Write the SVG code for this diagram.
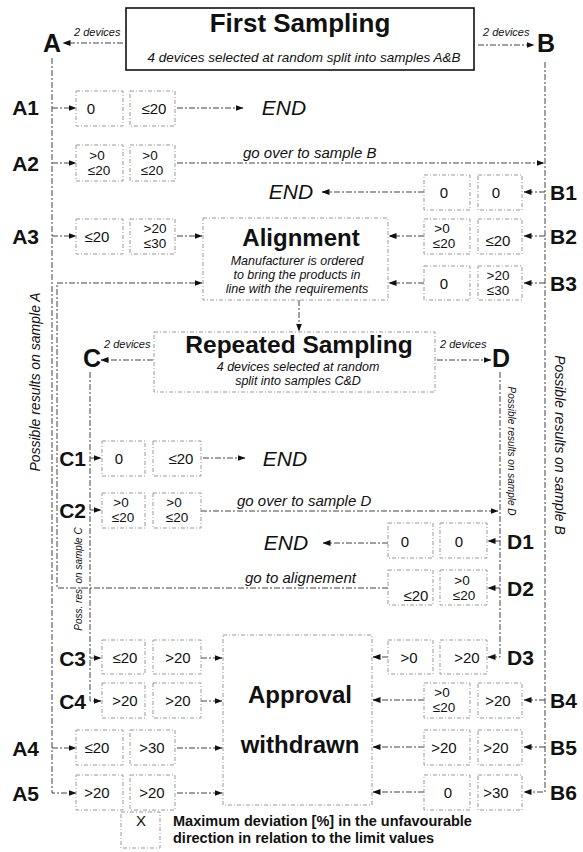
<svg xmlns="http://www.w3.org/2000/svg" width="583" height="852" viewBox="0 0 583 852">
<defs>
<marker id="ah" markerUnits="userSpaceOnUse" markerWidth="8" markerHeight="6" refX="7.5" refY="3" orient="auto">
<path d="M0,0 L8,3 L0,6 z" fill="#111"/>
</marker>
<style>
text{font-family:"Liberation Sans",Arial,Helvetica,sans-serif;fill:#111}
.b{stroke:#999;stroke-width:1;fill:none;stroke-dasharray:4,2,1,2}
.ca{stroke:#444;stroke-width:1;fill:none;stroke-dasharray:6,2,2,2;marker-end:url(#ah)}
.v{font-size:15px;text-anchor:middle}
.v2{font-size:13.5px;text-anchor:middle}
.lbl{font-size:21px;font-weight:bold}
.big{font-size:25px;font-weight:bold;text-anchor:middle}
.end{font-size:21px;font-style:italic;text-anchor:middle}
.it{font-style:italic}
.sm{font-size:11px;font-style:italic}
.h{font-weight:bold;text-anchor:middle}
</style>
</defs>
<rect width="583" height="852" fill="#fff"/>

<g id="connectors">
<line class="ca" x1="123" y1="43" x2="63" y2="43"/>
<line class="ca" x1="478" y1="45" x2="534" y2="45"/>
<polyline class="ca" points="52,58 52,793 76,793"/>
<polyline class="ca" points="545,62 545,792 524,792"/>
<line class="ca" x1="52" y1="108" x2="76" y2="108"/>
<line class="ca" x1="177" y1="108" x2="243" y2="108"/>
<line class="ca" x1="52" y1="163" x2="76" y2="163"/>
<line class="ca" x1="177" y1="163" x2="544" y2="163"/>
<line class="ca" x1="545" y1="192" x2="524" y2="192"/>
<line class="ca" x1="424" y1="192" x2="322" y2="192"/>
<line class="ca" x1="52" y1="236" x2="76" y2="236"/>
<line class="ca" x1="177" y1="236" x2="202" y2="236"/>
<line class="ca" x1="545" y1="236" x2="524" y2="236"/>
<line class="ca" x1="424" y1="236" x2="389" y2="236"/>
<line class="ca" x1="545" y1="283" x2="524" y2="283"/>
<line class="ca" x1="424" y1="283" x2="389" y2="283"/>
<polyline class="ca" points="388,588 57,588 57,283 202,283"/>
<line class="ca" x1="299" y1="300" x2="299" y2="331"/>
<line class="ca" x1="153" y1="360" x2="101" y2="360"/>
<line class="ca" x1="437" y1="360" x2="491" y2="360"/>
<polyline class="ca" points="90,372 90,701 101,701"/>
<line class="ca" x1="90" y1="458" x2="101" y2="458"/>
<line class="ca" x1="203" y1="458" x2="245" y2="458"/>
<line class="ca" x1="90" y1="510" x2="101" y2="510"/>
<line class="ca" x1="201" y1="511" x2="498" y2="511"/>
<polyline class="ca" points="500,372 500,657 488,657"/>
<line class="ca" x1="500" y1="541" x2="488" y2="541"/>
<line class="ca" x1="388" y1="543" x2="323" y2="543"/>
<line class="ca" x1="500" y1="588" x2="488" y2="588"/>
<line class="ca" x1="90" y1="658" x2="101" y2="658"/>
<line class="ca" x1="201" y1="658" x2="222" y2="658"/>
<line class="ca" x1="201" y1="701" x2="222" y2="701"/>
<line class="ca" x1="388" y1="657" x2="373" y2="657"/>
<line class="ca" x1="545" y1="700" x2="524" y2="700"/>
<line class="ca" x1="424" y1="700" x2="373" y2="700"/>
<line class="ca" x1="52" y1="748" x2="76" y2="748"/>
<line class="ca" x1="177" y1="748" x2="222" y2="748"/>
<line class="ca" x1="177" y1="793" x2="222" y2="793"/>
<line class="ca" x1="545" y1="747" x2="524" y2="747"/>
<line class="ca" x1="424" y1="747" x2="373" y2="747"/>
<line class="ca" x1="424" y1="792" x2="373" y2="792"/>
<text class="sm" x="74" y="36">2 devices</text>
<text class="sm" x="483" y="36">2 devices</text>
<text class="sm" x="104" y="348">2 devices</text>
<text class="sm" x="440" y="348">2 devices</text>
<text class="it" font-size="15" x="243" y="158">go over to sample B</text>
<text class="it" font-size="15" x="237" y="506">go over to sample D</text>
<text class="it" font-size="15" x="245" y="583">go to alignement</text>
</g>

<g id="first-sampling">
<rect x="126" y="8" width="348" height="62" fill="none" stroke="#111" stroke-width="1.6"/>
<text class="h" x="300" y="32" font-size="26">First Sampling</text>
<text class="it" x="304" y="62" font-size="13.5" text-anchor="middle">4 devices selected at random split into samples A&amp;B</text>
</g>

<g id="side-labels">
<text class="big" x="52" y="52">A</text>
<text class="big" x="546" y="52">B</text>
<text class="big" x="92" y="367">C</text>
<text class="big" x="501" y="367">D</text>
<text class="lbl" x="39" y="115" text-anchor="end">A1</text>
<text class="lbl" x="39" y="171" text-anchor="end">A2</text>
<text class="lbl" x="39" y="244" text-anchor="end">A3</text>
<text class="lbl" x="39" y="756" text-anchor="end">A4</text>
<text class="lbl" x="39" y="801" text-anchor="end">A5</text>
<text class="lbl" x="550" y="200">B1</text>
<text class="lbl" x="550" y="244">B2</text>
<text class="lbl" x="550" y="291">B3</text>
<text class="lbl" x="550" y="708">B4</text>
<text class="lbl" x="550" y="755">B5</text>
<text class="lbl" x="550" y="800">B6</text>
<text class="lbl" x="86" y="466" text-anchor="end">C1</text>
<text class="lbl" x="86" y="518" text-anchor="end">C2</text>
<text class="lbl" x="86" y="666" text-anchor="end">C3</text>
<text class="lbl" x="86" y="709" text-anchor="end">C4</text>
<text class="lbl" x="507" y="549">D1</text>
<text class="lbl" x="507" y="596">D2</text>
<text class="lbl" x="507" y="665">D3</text>
<text class="it" font-size="14" text-anchor="middle" transform="translate(40,382) rotate(-90)">Possible results on sample A</text>
<text class="it" font-size="14" text-anchor="middle" transform="translate(555,445) rotate(90)">Possible results on sample B</text>
<text class="it" font-size="10" text-anchor="middle" transform="translate(508,451) rotate(90)">Possible results on sample D</text>
<text class="it" font-size="10" text-anchor="middle" transform="translate(82,579) rotate(-90)">Poss. res. on sample C</text>
</g>

<g id="row-A1">
<rect class="b" x="76" y="91" width="47" height="35"/><rect class="b" x="130" y="91" width="45" height="35"/>
<text class="v" x="91" y="114">0</text><text class="v" x="154" y="114">≤20</text>
<text class="end" x="284" y="115">END</text>
</g>
<g id="row-A2">
<rect class="b" x="76" y="145" width="47" height="36"/><rect class="b" x="130" y="145" width="45" height="36"/>
<text class="v2" x="97" y="159.5">&gt;0</text><text class="v2" x="99" y="174.7">≤20</text>
<text class="v2" x="150" y="159.5">&gt;0</text><text class="v2" x="152" y="174.7">≤20</text>
</g>
<g id="row-B1">
<rect class="b" x="424" y="175" width="46" height="35"/><rect class="b" x="478" y="175" width="44" height="35"/>
<text class="v" x="444" y="198">0</text><text class="v" x="496" y="198">0</text>
<text class="end" x="291" y="199">END</text>
</g>
<g id="row-A3">
<rect class="b" x="76" y="219" width="47" height="35"/><rect class="b" x="130" y="219" width="45" height="35"/>
<text class="v" x="97" y="242">≤20</text>
<text class="v2" x="155" y="233">&gt;20</text><text class="v2" x="155" y="248.2">≤30</text>
</g>
<g id="row-B2">
<rect class="b" x="424" y="219" width="46" height="35"/><rect class="b" x="478" y="219" width="44" height="35"/>
<text class="v2" x="442" y="233">&gt;0</text><text class="v2" x="444" y="248.2">≤20</text>
<text class="v" x="498" y="246">≤20</text>
</g>
<g id="row-B3">
<rect class="b" x="424" y="266" width="46" height="34"/><rect class="b" x="478" y="266" width="44" height="34"/>
<text class="v" x="444" y="289">0</text>
<text class="v2" x="498" y="279.5">&gt;20</text><text class="v2" x="498" y="294.7">≤30</text>
</g>
<g id="alignment">
<rect class="b" x="203" y="218" width="185" height="82"/>
<text class="h" x="301" y="246" font-size="24">Alignment</text>
<text class="it" x="297" y="265" font-size="12.5" text-anchor="middle">Manufacturer is ordered</text>
<text class="it" x="297" y="279" font-size="12.5" text-anchor="middle">to bring the products in</text>
<text class="it" x="297" y="293" font-size="12.5" text-anchor="middle">line with the requirements</text>
</g>
<g id="repeated-sampling">
<rect class="b" x="154" y="332" width="281" height="60"/>
<text class="h" x="299" y="353" font-size="24.5">Repeated Sampling</text>
<text class="it" x="298" y="371" font-size="12.5" text-anchor="middle">4 devices selected at random</text>
<text class="it" x="298" y="385" font-size="12.5" text-anchor="middle">split into samples C&amp;D</text>
</g>
<g id="row-C1">
<rect class="b" x="102" y="441" width="43" height="35"/><rect class="b" x="153" y="441" width="48" height="35"/>
<text class="v" x="119" y="464">0</text><text class="v" x="181" y="464">≤20</text>
<text class="end" x="285" y="466">END</text>
</g>
<g id="row-C2">
<rect class="b" x="102" y="493" width="43" height="35"/><rect class="b" x="153" y="493" width="48" height="35"/>
<text class="v2" x="121" y="507">&gt;0</text><text class="v2" x="123" y="522.2">≤20</text>
<text class="v2" x="174" y="507">&gt;0</text><text class="v2" x="177" y="522.2">≤20</text>
</g>
<g id="row-D1">
<rect class="b" x="388" y="523" width="45" height="35"/><rect class="b" x="440" y="523" width="47" height="35"/>
<text class="v" x="405" y="547">0</text><text class="v" x="459" y="547">0</text>
<text class="end" x="286" y="550">END</text>
</g>
<g id="row-D2">
<rect class="b" x="388" y="570" width="45" height="35"/><rect class="b" x="440" y="570" width="47" height="35"/>
<text class="v" x="416" y="601">≤20</text>
<text class="v2" x="462" y="584.5">&gt;0</text><text class="v2" x="464" y="599.7">≤20</text>
</g>
<g id="row-C3">
<rect class="b" x="102" y="640" width="43" height="34"/><rect class="b" x="153" y="640" width="48" height="34"/>
<text class="v" x="125" y="663">≤20</text><text class="v" x="178" y="663">&gt;20</text>
</g>
<g id="row-C4">
<rect class="b" x="102" y="683" width="43" height="35"/><rect class="b" x="153" y="683" width="48" height="35"/>
<text class="v" x="125" y="706">&gt;20</text><text class="v" x="178" y="706">&gt;20</text>
</g>
<g id="row-D3">
<rect class="b" x="388" y="640" width="45" height="34"/><rect class="b" x="440" y="640" width="47" height="34"/>
<text class="v" x="409" y="663">&gt;0</text><text class="v" x="467" y="663">&gt;20</text>
</g>
<g id="row-B4">
<rect class="b" x="424" y="683" width="46" height="35"/><rect class="b" x="478" y="683" width="44" height="35"/>
<text class="v2" x="442" y="697">&gt;0</text><text class="v2" x="444" y="712.2">≤20</text>
<text class="v" x="498" y="706">&gt;20</text>
</g>
<g id="approval-withdrawn">
<rect class="b" x="223" y="635" width="149" height="170"/>
<text class="h" x="300" y="703" font-size="24">Approval</text>
<text class="h" x="300" y="753" font-size="24">withdrawn</text>
</g>
<g id="row-A4">
<rect class="b" x="76" y="730" width="47" height="35"/><rect class="b" x="130" y="730" width="45" height="35"/>
<text class="v" x="97" y="753">≤20</text><text class="v" x="152" y="753">&gt;30</text>
</g>
<g id="row-A5">
<rect class="b" x="76" y="775" width="47" height="35"/><rect class="b" x="130" y="775" width="45" height="35"/>
<text class="v" x="97" y="798">&gt;20</text><text class="v" x="152" y="798">&gt;20</text>
</g>
<g id="row-B5">
<rect class="b" x="424" y="730" width="46" height="35"/><rect class="b" x="478" y="730" width="44" height="35"/>
<text class="v" x="444" y="753">&gt;20</text><text class="v" x="496" y="753">&gt;20</text>
</g>
<g id="row-B6">
<rect class="b" x="424" y="775" width="46" height="35"/><rect class="b" x="478" y="775" width="44" height="35"/>
<text class="v" x="448" y="798">0</text><text class="v" x="496" y="798">&gt;30</text>
</g>
<g id="legend">
<rect class="b" x="121" y="812" width="39" height="36"/>
<text class="v" x="141" y="826" font-size="14">X</text>
<text x="173" y="826" font-size="14.5" font-weight="bold">Maximum deviation [%] in the unfavourable</text>
<text x="173" y="843" font-size="14.5" font-weight="bold">direction in relation to the limit values</text>
</g>
</svg>
